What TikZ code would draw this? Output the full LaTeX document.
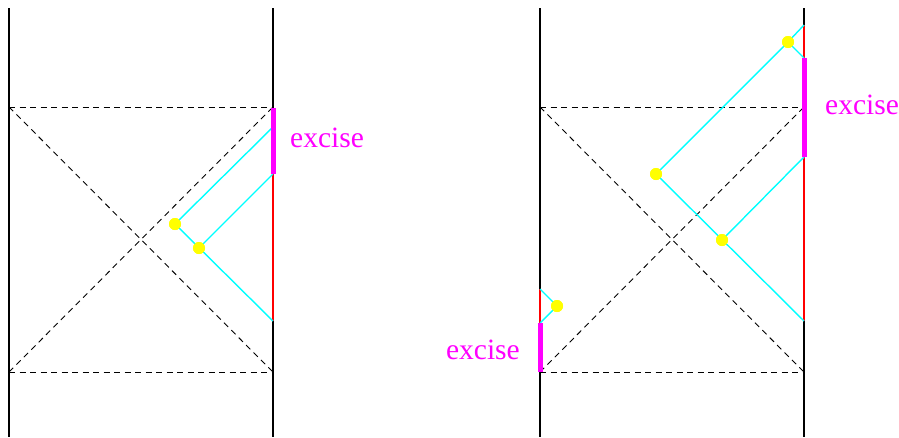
\documentclass[tikz,border=0pt]{standalone}
\usepackage{fontspec}
\setmainfont{Liberation Serif}
\definecolor{cyanx}{RGB}{0,255,255}
\definecolor{magx}{RGB}{255,0,255}
\definecolor{redx}{RGB}{255,0,0}
\definecolor{yelx}{RGB}{255,255,0}
\begin{document}
\begin{tikzpicture}[x=1pt,y=-1pt,
  wall/.style={line width=1.5pt,black},
  dsh/.style={line width=0.9pt,black,dash pattern=on 6pt off 4.5pt},
  ray/.style={line width=1.4pt,cyanx},
  redl/.style={line width=1.6pt,redx},
  exc/.style={line width=5pt,magx},
  dot/.style={circle,fill=yelx,minimum size=12pt,inner sep=0pt},
  lbl/.style={text=magx,inner sep=0pt,font=\fontsize{29.5}{31}\selectfont}]
\useasboundingbox (0,0) rectangle (899,437);
% ---- left diagram ----
\coordinate (LwT) at (9,8); \coordinate (LwB) at (9,437);
\coordinate (RwT) at (273,8); \coordinate (RwB) at (273,437);
\coordinate (LtL) at (9,107); \coordinate (LtR) at (273,107);
\coordinate (LbL) at (9,372); \coordinate (LbR) at (273,372);
\draw[dsh] (LtL) -- (LtR);
\draw[dsh] (LbL) -- (LbR);
\draw[dsh] (LtL) -- (LbR);
\draw[dsh] (LbL) -- (LtR);
\draw[wall] (LwT) -- (LwB);
\draw[wall] (RwT) -- (RwB);
\coordinate (La) at (273,127); \coordinate (Lb) at (273,174);
\coordinate (Lc) at (273,321); \coordinate (Lm1) at (273,108);
\node[dot] (Ld1) at (175,224) {};
\node[dot] (Ld2) at (199,248) {};
\draw[redl] (Lb) -- (Lc);
\draw[ray] (La) -- (Ld1.center) -- (Lc);
\draw[ray] (Lb) -- (Ld2.center);
\draw[exc] (Lm1) -- (Lb);
\node[dot] at (Ld1) {};
\node[dot] at (Ld2) {};
\node[lbl,anchor=west] (Lx) at (290,138) {excise};
% ---- right diagram ----
\coordinate (PwT) at (540,8); \coordinate (PwB) at (540,437);
\coordinate (QwT) at (804,8); \coordinate (QwB) at (804,437);
\coordinate (PtL) at (540,107); \coordinate (PtR) at (804,107);
\coordinate (PbL) at (540,372); \coordinate (PbR) at (804,372);
\draw[dsh] (PtL) -- (PtR);
\draw[dsh] (PbL) -- (PbR);
\draw[dsh] (PtL) -- (PbR);
\draw[dsh] (PbL) -- (PtR);
\draw[wall] (PwT) -- (PwB);
\draw[wall] (QwT) -- (QwB);
\coordinate (Qa) at (804,25); \coordinate (Qb) at (804,58);
\coordinate (Qc) at (804,157); \coordinate (Qd) at (804,321);
\node[dot] (Qd1) at (788,42) {};
\node[dot] (Qd2) at (656,174) {};
\node[dot] (Qd3) at (722,240) {};
\draw[redl] (Qa) -- (Qd);
\draw[ray] (Qa) -- (Qd1.center) -- (Qb);
\draw[ray] (Qd1.center) -- (Qd2.center) -- (Qd);
\draw[ray] (Qc) -- (Qd3.center);
\draw[exc] (Qb) -- (Qc);
\node[dot] at (Qd1) {};
\node[dot] at (Qd2) {};
\node[dot] at (Qd3) {};
\node[lbl,anchor=west] (Qx) at (825,105) {excise};
% small left part
\coordinate (Pa) at (540,289); \coordinate (Pb) at (540,323);
\coordinate (Pc) at (540,372);
\node[dot] (Pd1) at (557,306) {};
\draw[redl] (Pa) -- (Pb);
\draw[ray] (Pa) -- (Pd1.center) -- (Pb);
\draw[exc] (Pb) -- (Pc);
\node[dot] at (Pd1) {};
\node[lbl,anchor=east] (Px) at (520,350) {excise};
\end{tikzpicture}
\end{document}
